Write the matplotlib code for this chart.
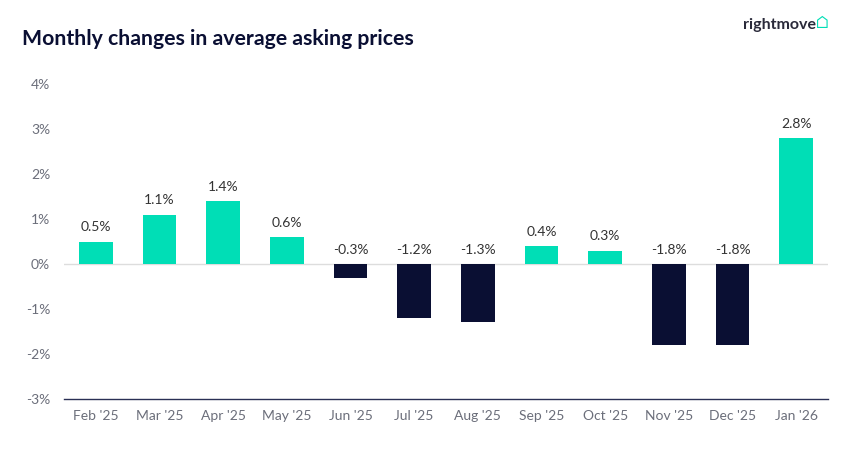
import matplotlib.pyplot as plt
from matplotlib.ticker import FuncFormatter

months = ["Feb '25", "Mar '25", "Apr '25", "May '25", "Jun '25", "Jul '25",
          "Aug '25", "Sep '25", "Oct '25", "Nov '25", "Dec '25", "Jan '26"]
changes = [0.5, 1.1, 1.4, 0.6, -0.3, -1.2, -1.3, 0.4, 0.3, -1.8, -1.8, 2.8]

TEAL = '#00DEB6'
NAVY = '#0A0F33'
GREY = '#6B6E7A'

plt.rcParams['font.family'] = ['Lato', 'DejaVu Sans']

fig = plt.figure(figsize=(8.56, 4.57), dpi=100)
ax = fig.add_axes([0.0748, 0.127, 0.8925, 0.689])

colors = [TEAL if v >= 0 else NAVY for v in changes]
x = range(len(months))
ax.bar(x, changes, width=0.53, color=colors, zorder=3)

# labels above the bars (for negatives too, above the zero line)
for i, v in enumerate(changes):
    y = max(v, 0) + 0.18
    ax.text(i, y, f'{v:.1f}%', ha='center', va='bottom', fontsize=10, color='#333333')

ax.axhline(0, color='#DDDDDD', lw=1, zorder=1)
ax.set_xlim(-0.5, len(months) - 0.5)
ax.set_ylim(-3, 4)
ax.set_yticks(range(-3, 5))
ax.yaxis.set_major_formatter(FuncFormatter(lambda v, p: f'{int(v)}%'))
ax.set_xticks(list(x))
ax.set_xticklabels(months)
ax.tick_params(axis='both', length=0, colors=GREY, labelsize=10)
ax.tick_params(axis='x', pad=8)
ax.tick_params(axis='y', pad=10)

for s in ['top', 'right', 'left']:
    ax.spines[s].set_visible(False)
ax.spines['bottom'].set_color('#2A2F55')
ax.spines['bottom'].set_linewidth(1.0)

fig.text(0.026, 0.915, 'Monthly changes in average asking prices', fontsize=15.3,
         fontweight='bold', color=NAVY, va='center')
fig.text(0.953, 0.945, 'rightmove', fontsize=11.5, fontweight='bold',
         color='#2A2A3A', ha='right', va='center')
fig.text(0.961, 0.95, '⌂', fontsize=12, color=TEAL, ha='center', va='center')

fig.savefig('out.png', dpi=100)
